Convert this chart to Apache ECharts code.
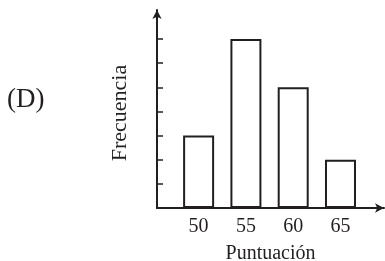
<!DOCTYPE html>
<html>
<head>
<meta charset="utf-8">
<script src="https://cdn.jsdelivr.net/npm/echarts@6/dist/echarts.min.js"></script>
<style>
html,body{margin:0;padding:0;background:#fff;}
#chart{width:385px;height:261px;}
</style>
</head>
<body>
<div id="chart"></div>
<script>
// datos
var puntuacion = [50, 55, 60, 65];
var frecuencia = [3, 7, 5, 2];
var marcasY = [1, 2, 3, 4, 5, 6, 7];

var ink = '#231f20';
var fuente = '"Liberation Serif", "Times New Roman", serif';

var barras = [];
for (var i = 0; i < puntuacion.length; i++) {
    barras.push([puntuacion[i], frecuencia[i]]);
}

var myChart = echarts.init(document.getElementById('chart'));
var option = {
    animation: false,
    grid: {
        left: 157,
        right: 1,
        top: 10,
        bottom: 53,
        outerBoundsMode: 'none'
    },
    xAxis: {
        type: 'value',
        min: 45.6,
        max: 69.6,
        name: 'Puntuación',
        nameLocation: 'middle',
        nameGap: 36,
        nameTextStyle: { fontFamily: fuente, fontSize: 20, color: ink },
        axisLine: {
            show: true,
            symbol: ['none', 'arrow'],
            symbolSize: [7, 9],
            lineStyle: { color: ink, width: 2 }
        },
        axisTick: { show: false },
        splitLine: { show: false },
        axisLabel: {
            customValues: puntuacion,
            fontFamily: fuente,
            fontSize: 20,
            color: ink,
            margin: 9
        }
    },
    yAxis: {
        type: 'value',
        min: 0,
        max: 8.2,
        name: 'Frecuencia',
        nameLocation: 'middle',
        nameRotate: 90,
        nameGap: 26,
        nameTextStyle: { fontFamily: fuente, fontSize: 22, color: ink, padding: [0, 8, 0, 0] },
        axisLine: {
            show: true,
            symbol: ['none', 'arrow'],
            symbolSize: [7, 9],
            lineStyle: { color: ink, width: 2 }
        },
        axisTick: {
            show: true,
            inside: true,
            length: 6,
            customValues: marcasY,
            lineStyle: { color: ink, width: 1.5 }
        },
        axisLabel: { show: false },
        splitLine: { show: false }
    },
    graphic: [{
        type: 'text',
        left: 7,
        top: 86,
        style: {
            text: '(D)',
            font: '27px ' + fuente,
            fill: ink
        }
    }],
    series: [{
        type: 'bar',
        data: barras,
        barWidth: 31,
        itemStyle: {
            color: '#fff',
            borderColor: ink,
            borderWidth: 2
        }
    }]
};
myChart.setOption(option);
</script>
</body>
</html>
